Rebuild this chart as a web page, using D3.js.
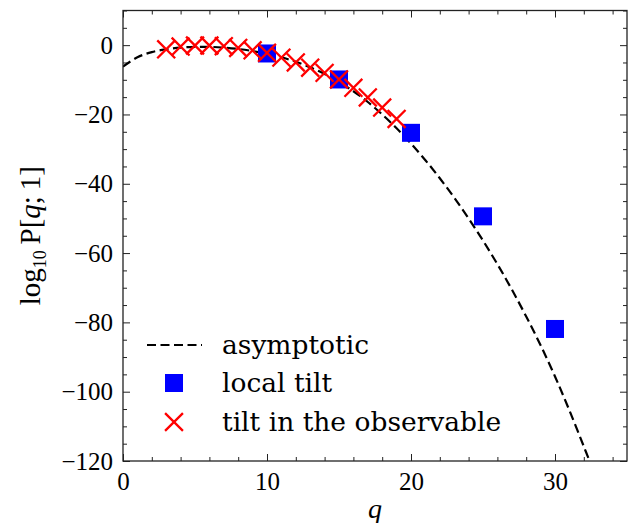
<!DOCTYPE html>
<html>
<head>
<meta charset="utf-8">
<script src="https://cdn.jsdelivr.net/npm/d3@7"></script>
<style>
  body { margin: 0; background: #fff; }
  svg { display: block; }
</style>
</head>
<body>
<svg id="chart"></svg>
<script>
// asymptotic curve
const asymQ = [0, 1, 2, 3, 4, 5, 6, 7, 8, 9, 10, 11, 12, 13, 14, 15, 16, 17, 18, 19, 20,
  21, 22, 23, 24, 25, 26, 27, 28, 29, 30, 31, 32, 32.4];
const asymP = [-6.2, -3.5, -2.0, -1.2, -0.7, -0.5, -0.5, -0.7, -1.1, -1.7, -2.5, -3.5, -4.8,
  -6.4, -8.3, -10.6, -13.3, -16.4, -20.0, -24.0, -28.4, -33.2, -38.4, -44.0, -50.0, -56.4,
  -63.2, -70.5, -78.3, -86.6, -95.6, -105.4, -115.8, -120];

// local tilt (blue squares)
const localQ = [10, 15, 20, 25, 30];
const localP = [-2.4, -9.9, -25.3, -49.4, -81.9];

// tilt in the observable (red crosses)
const obsQ = [3, 4, 5, 6, 7, 8, 9, 10, 11, 12, 13, 14, 15, 16, 17, 18, 19];
const obsP = [-1.2, -0.4, -0.1, -0.1, -0.3, -0.8, -1.5, -2.2, -3.6, -5.0, -6.5, -8.0, -9.9,
  -12.3, -15.1, -18.0, -21.3];

const xTicks = [0, 10, 20, 30];
const yTicks = [0, -20, -40, -60, -80, -100, -120];
const legendLabels = ["asymptotic", "local tilt", "tilt in the observable"];

const width = 638;
const height = 523;
const margin = { top: 10.5, right: 11, bottom: 62, left: 123 };

const svg = d3.select("#chart").attr("width", width).attr("height", height);

const x = d3.scaleLinear([0, 35], [margin.left, width - margin.right]);
const y = d3.scaleLinear([-120, 10], [height - margin.bottom, margin.top]);

const tickFont = "'Liberation Serif', serif";
const textFont = "'DejaVu Serif', serif";
const dash = "9,4.5";

svg.append("defs").append("clipPath").attr("id", "clip")
  .append("rect")
  .attr("x", x(0)).attr("y", y(10))
  .attr("width", x(35) - x(0)).attr("height", y(-120) - y(10));

// ticks on all four sides, pointing in
function drawAxis(axis, transform) {
  svg.append("g")
    .attr("transform", transform)
    .call(axis)
    .call((g) => g.select(".domain").remove())
    .call((g) => g.selectAll("line").attr("stroke", "#222").attr("stroke-width", 1));
}
const minorX = d3.range(0, 35.1, 2).filter((v) => v % 10 !== 0);
const minorY = d3.range(-120, 10.1, 5).filter((v) => v % 20 !== 0);

drawAxis(d3.axisBottom(x).tickValues(minorX).tickSize(-4).tickFormat(""), `translate(0,${y(-120)})`);
drawAxis(d3.axisTop(x).tickValues(minorX).tickSize(-4).tickFormat(""), `translate(0,${y(10)})`);
drawAxis(d3.axisLeft(y).tickValues(minorY).tickSize(-4).tickFormat(""), `translate(${x(0)},0)`);
drawAxis(d3.axisRight(y).tickValues(minorY).tickSize(-4).tickFormat(""), `translate(${x(35)},0)`);

drawAxis(d3.axisBottom(x).tickValues(xTicks).tickSize(-7).tickPadding(11), `translate(0,${y(-120)})`);
drawAxis(d3.axisTop(x).tickValues(xTicks).tickSize(-7).tickFormat(""), `translate(0,${y(10)})`);
drawAxis(d3.axisLeft(y).tickValues(yTicks).tickSize(-7).tickPadding(10)
  .tickFormat((d) => (d < 0 ? "\u2212" + Math.abs(d) : d)), `translate(${x(0)},0)`);
drawAxis(d3.axisRight(y).tickValues(yTicks).tickSize(-7).tickFormat(""), `translate(${x(35)},0)`);

svg.selectAll(".tick text")
  .attr("font-family", tickFont)
  .attr("font-size", 25)
  .attr("fill", "#000");

// asymptotic dashed curve
const curve = asymQ.map((q, i) => [q, asymP[i]]);
svg.append("path")
  .datum(curve)
  .attr("clip-path", "url(#clip)")
  .attr("fill", "none")
  .attr("stroke", "#000")
  .attr("stroke-width", 2.2)
  .attr("stroke-dasharray", dash)
  .attr("d", d3.line().x((d) => x(d[0])).y((d) => y(d[1])).curve(d3.curveCatmullRom));

// local tilt squares
const sq = 18;
svg.append("g")
  .selectAll("rect")
  .data(localQ.map((q, i) => [q, localP[i]]))
  .join("rect")
  .attr("x", (d) => x(d[0]) - sq / 2)
  .attr("y", (d) => y(d[1]) - sq / 2)
  .attr("width", sq)
  .attr("height", sq)
  .attr("fill", "#0000ff");

// tilt in observable crosses
const cross = d3.symbol().type(d3.symbolX).size(210);
svg.append("g")
  .selectAll("path")
  .data(obsQ.map((q, i) => [q, obsP[i]]))
  .join("path")
  .attr("transform", (d) => `translate(${x(d[0])},${y(d[1])})`)
  .attr("d", cross)
  .attr("fill", "none")
  .attr("stroke", "#ff0000")
  .attr("stroke-width", 2.3);

// frame
svg.append("rect")
  .attr("x", x(0)).attr("y", y(10))
  .attr("width", x(35) - x(0)).attr("height", y(-120) - y(10))
  .attr("fill", "none")
  .attr("stroke", "#222")
  .attr("stroke-width", 1.3);

// legend
const legend = svg.append("g");
const rowY = [345, 383, 422];
legend.append("line")
  .attr("x1", 147).attr("x2", 202)
  .attr("y1", rowY[0]).attr("y2", rowY[0])
  .attr("stroke", "#000").attr("stroke-width", 2.2).attr("stroke-dasharray", dash);
legend.append("rect")
  .attr("x", 174 - sq / 2).attr("y", rowY[1] - sq / 2)
  .attr("width", sq).attr("height", sq).attr("fill", "#0000ff");
legend.append("path")
  .attr("transform", `translate(174,${rowY[2]})`)
  .attr("d", cross)
  .attr("fill", "none").attr("stroke", "#ff0000").attr("stroke-width", 2.3);
legend.selectAll("text")
  .data(legendLabels)
  .join("text")
  .attr("x", 222)
  .attr("y", (d, i) => rowY[i])
  .attr("dy", "0.35em")
  .attr("font-family", textFont)
  .attr("font-size", 26.5)
  .text((d) => d);

// axis labels
svg.append("text")
  .attr("x", x(17.5))
  .attr("y", 518)
  .attr("text-anchor", "middle")
  .attr("font-family", tickFont)
  .attr("font-style", "italic")
  .attr("font-size", 28)
  .text("q");

const yl = svg.append("text")
  .attr("transform", `translate(40,${(y(10) + y(-120)) / 2}) rotate(-90)`)
  .attr("text-anchor", "middle")
  .attr("font-family", tickFont)
  .attr("font-size", 29);
yl.append("tspan").text("log");
yl.append("tspan").attr("font-size", 18).attr("dy", 6).text("10");
yl.append("tspan").attr("dy", -6).text("\u2009P[");
yl.append("tspan").attr("font-style", "italic").text("q");
yl.append("tspan").text(";\u20091]");
</script>
</body>
</html>
